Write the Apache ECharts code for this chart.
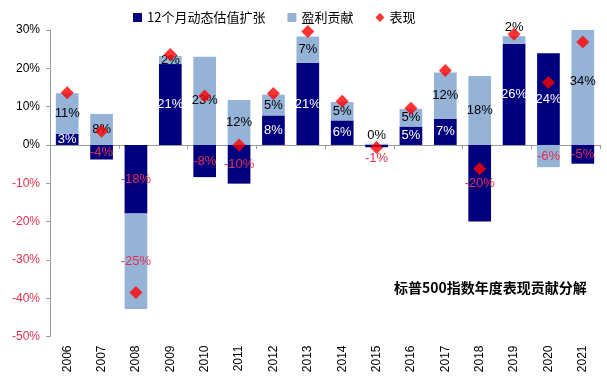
<!DOCTYPE html>
<html>
<head>
<meta charset="utf-8">
<script src="https://cdn.jsdelivr.net/npm/echarts@6/dist/echarts.min.js"></script>
<style>html,body{margin:0;padding:0;background:#fff}#c{width:607px;height:385px}</style>
</head>
<body>
<div id="c"></div>
<script>
var years = ['2006','2007','2008','2009','2010','2011','2012','2013','2014','2015','2016','2017','2018','2019','2020','2021'];
var valuation = [2.9, -3.8, -17.9, 21.1, -8.4, -10.1, 7.7, 21.4, 6.4, -0.6, 4.8, 6.8, -20.0, 26.4, 23.9, -4.9];
var earnings = [10.6, 8.1, -24.9, 2.1, 23.0, 11.7, 5.4, 6.9, 4.8, 0.3, 4.6, 12.1, 18.0, 2.0, -5.8, 34.0];
var performance = [13.6, 3.6, -38.5, 23.6, 12.8, 0.0, 13.4, 29.6, 11.4, -0.7, 9.6, 19.4, -6.2, 28.9, 16.3, 26.9];
var yTicks = {min: -50, max: 30, step: 10};

var RED_TXT = '#e3304f';
var DARK = '#00007e';
var LIGHT = '#95b3d7';
var FONT = 'Liberation Sans, Arial, sans-serif';

function pct(v){ return Math.round(v) + '%'; }

var darkData = valuation.map(function(v, i){
  var d = {value: v, label: {color: v < 0 ? RED_TXT : '#ffffff'}};
  if (years[i] === '2015') { d.label.position = 'bottom'; d.label.color = RED_TXT; }
  return d;
});
var lightData = earnings.map(function(v, i){
  var d = {value: v, label: {color: v < 0 ? RED_TXT : '#000000'}};
  if (years[i] === '2015' || years[i] === '2019') { d.label.position = 'top'; d.label.distance = 2; }
  if (years[i] === '2021') { d.label.offset = [0, -6]; }
  return d;
});

var chart = echarts.init(document.getElementById('c'), null, {renderer: 'canvas'});
chart.setOption({
  animation: false,
  backgroundColor: '#ffffff',
  textStyle: {fontFamily: FONT},
  title: {
    text: '标普500指数年度表现贡献分解',
    left: 394, top: 281, padding: 0,
    textStyle: {fontSize: 14, fontWeight: 'bold', color: '#000', fontFamily: 'Noto Sans CJK SC, sans-serif'}
  },
  legend: {
    left: 128, top: 6,
    itemWidth: 9, itemHeight: 9, itemGap: 22,
    textStyle: {fontSize: 13, color: '#000', fontFamily: 'Noto Sans CJK SC, sans-serif'},
    data: [
      {name: '12个月动态估值扩张', icon: 'rect'},
      {name: '盈利贡献', icon: 'rect'},
      {name: '表现', icon: 'diamond'}
    ]
  },
  grid: {left: 50, right: 7, top: 30, bottom: 48.5, containLabel: false},
  xAxis: [
    {
      type: 'category', data: years, position: 'top',
      axisLine: {onZero: true, lineStyle: {color: '#9a9a9a', width: 1}},
      axisTick: {show: true, inside: true, length: 4, lineStyle: {color: '#9a9a9a'}},
      axisLabel: {show: false},
      splitLine: {show: false}
    },
    {
      type: 'category', data: years, position: 'bottom',
      axisLine: {show: false, onZero: false},
      axisTick: {show: false},
      axisLabel: {rotate: 90, fontSize: 12, color: '#000', margin: 9, fontFamily: FONT},
      splitLine: {show: false}
    }
  ],
  yAxis: {
    type: 'value', min: yTicks.min, max: yTicks.max, interval: yTicks.step,
    axisLine: {show: true, lineStyle: {color: '#9a9a9a'}},
    axisTick: {show: true, length: 4, lineStyle: {color: '#9a9a9a'}},
    splitLine: {show: false},
    axisLabel: {
      fontSize: 12, margin: 10, fontFamily: FONT,
      formatter: function(v){ return v + '%'; },
      color: function(v){ return Number(v) < 0 ? RED_TXT : '#000000'; }
    }
  },
  series: [
    {
      name: '12个月动态估值扩张', type: 'bar', stack: 'a', xAxisIndex: 0,
      barWidth: '66%', data: darkData,
      itemStyle: {color: DARK},
      label: {show: true, position: 'inside', fontSize: 13, fontFamily: FONT, formatter: function(p){ return pct(p.value); }}
    },
    {
      name: '盈利贡献', type: 'bar', stack: 'a', xAxisIndex: 0,
      barWidth: '66%', data: lightData,
      itemStyle: {color: LIGHT},
      label: {show: true, position: 'inside', fontSize: 13, fontFamily: FONT, formatter: function(p){ return pct(p.value); }}
    },
    {
      name: '表现', type: 'scatter', xAxisIndex: 0,
      symbol: 'diamond', symbolSize: 13, z: 5,
      itemStyle: {color: '#ff0000'},
      data: performance
    }
  ]
});
</script>
</body>
</html>
